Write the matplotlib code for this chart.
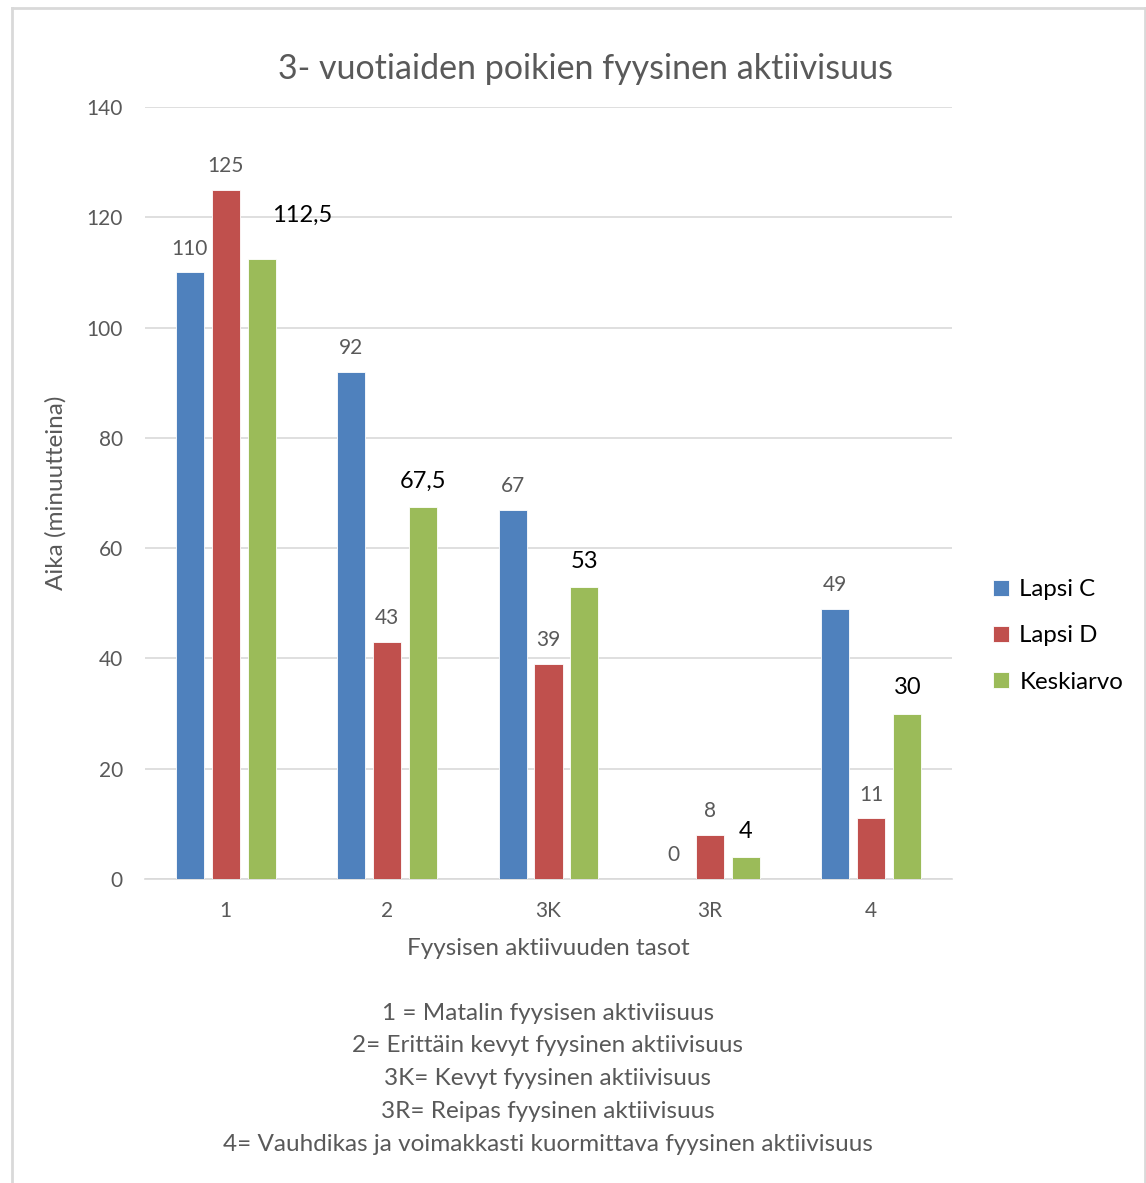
import numpy as np
import matplotlib.pyplot as plt

plt.rcParams['font.family'] = ['Lato', 'DejaVu Sans']

levels = ["1", "2", "3K", "3R", "4"]
lapsi_c = [110, 92, 67, 0, 49]
lapsi_d = [125, 43, 39, 8, 11]
keskiarvo = [112.5, 67.5, 53, 4, 30]
y_ticks = [0, 20, 40, 60, 80, 100, 120, 140]

legend_names = ["Lapsi C", "Lapsi D", "Keskiarvo"]
colors = ["#4F81BD", "#C0504D", "#9BBB59"]

explanation = [
    "1 = Matalin fyysisen aktiviisuus",
    "2= Erittäin kevyt fyysinen aktiivisuus",
    "3K= Kevyt fyysinen aktiivisuus",
    "3R= Reipas fyysinen aktiivisuus",
    "4= Vauhdikas ja voimakkasti kuormittava fyysinen aktiivisuus",
]

GRAY = "#595959"

fig = plt.figure(figsize=(11.46, 11.83), dpi=100)
ax = fig.add_axes([145 / 1146, 304 / 1183, 807 / 1146, 772 / 1183])

# outer chart frame (open at the bottom)
top = 1 - 8 / 1183
for xs, ys in [([12 / 1146, 12 / 1146], [0, top]),
               ([12 / 1146, 1145 / 1146], [top, top]),
               ([1145 / 1146, 1145 / 1146], [0, top])]:
    fig.add_artist(plt.Line2D(xs, ys, transform=fig.transFigure,
                              color="#D9D9D9", lw=2))

x = np.arange(len(levels))
width = 0.1735
step = 0.223
series = [lapsi_c, lapsi_d, keskiarvo]

for i, (vals, name, col) in enumerate(zip(series, legend_names, colors)):
    pos = x + (i - 1) * step
    ax.bar(pos, vals, width=width, color=col, label=name,
           edgecolor="white", linewidth=0.6, zorder=3)
    for j, (px, v) in enumerate(zip(pos, vals)):
        txt = f"{v:g}".replace(".", ",")
        if i == 2:
            dx, dy = (29, 31) if j == 0 else (0, 18.5)
            ax.annotate(txt, (px, v), xytext=(dx, dy), textcoords="offset points",
                        ha="center", va="center", fontsize=17, color="#000000")
        else:
            ax.annotate(txt, (px, v), xytext=(0, 17), textcoords="offset points",
                        ha="center", va="center", fontsize=15, color=GRAY)

ax.set_xlim(-0.5, len(levels) - 0.5)
ax.set_ylim(0, 140)
ax.set_yticks(y_ticks)
ax.set_xticks(x)
ax.set_xticklabels(levels)
ax.tick_params(axis="both", length=0, labelsize=15, labelcolor=GRAY)
ax.tick_params(axis="y", pad=16)
ax.tick_params(axis="x", pad=16)
ax.grid(axis="y", color="#D9D9D9", linewidth=1.2, zorder=0)
for side in ["top", "right", "left"]:
    ax.spines[side].set_visible(False)
ax.spines["bottom"].set_color("#D9D9D9")
ax.spines["bottom"].set_linewidth(1.2)

ax.set_title("3- vuotiaiden poikien fyysinen aktiivisuus",
             fontsize=24.5, color=GRAY, pad=20, x=0.546)
ax.set_xlabel("Fyysisen aktiivuuden tasot", fontsize=17.5, color=GRAY, labelpad=12)
ax.set_ylabel("Aika (minuutteina)", fontsize=17.5, color=GRAY, labelpad=14)

for k, line in enumerate(explanation):
    fig.text(548 / 1146, 1 - (1013 + 32.8 * k) / 1183, line, ha="center",
             va="center", fontsize=17.5, color=GRAY)

ax.legend(loc="center left", bbox_to_anchor=(1.024, 0.315), frameon=False,
          fontsize=17.3, handlelength=0.65, handleheight=0.65, handletextpad=0.45,
          labelspacing=1.05, labelcolor="#000000")

fig.savefig("out.png", dpi=100, facecolor="white")
